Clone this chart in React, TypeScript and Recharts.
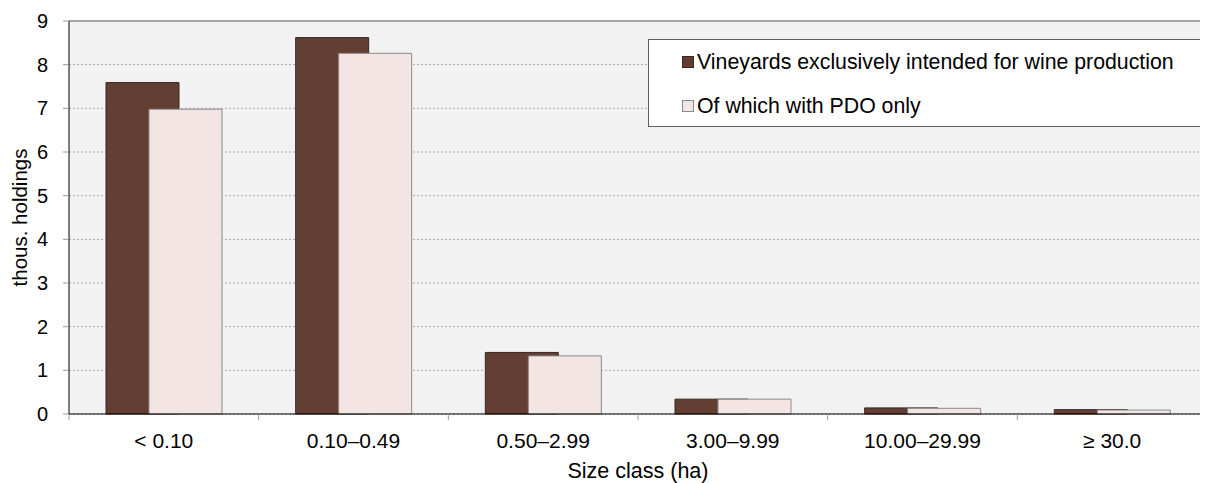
import React from "react";
import {
  BarChart,
  Bar,
  XAxis,
  YAxis,
  CartesianGrid,
  ReferenceLine,
} from "recharts";

const sizeClasses = ["< 0.10", "0.10–0.49", "0.50–2.99", "3.00–9.99", "10.00–29.99", "≥ 30.0"];
const vineyards = [7.59, 8.62, 1.41, 0.34, 0.14, 0.1];
const pdoOnly = [6.98, 8.26, 1.33, 0.34, 0.13, 0.09];
const yTicks = [0, 1, 2, 3, 4, 5, 6, 7, 8, 9];

const seriesNames = {
  vineyards: "Vineyards exclusively intended for wine production",
  pdoOnly: "Of which with PDO only",
};

const DARK = "#633f33";
const LIGHT = "#f2e5e3";
const FONT = "'Liberation Sans', Arial, sans-serif";

const data = sizeClasses.map((c, i) => ({
  name: c,
  vineyards: vineyards[i],
  pdoOnly: pdoOnly[i],
}));

function SizeTick(props: any) {
  const { x, y, payload } = props;
  const half = payload?.offset ?? 95;
  const axisY = y - 6;
  return (
    <g>
      <line x1={x - half} x2={x - half} y1={axisY} y2={axisY + 6} stroke="#999" />
      <text
        x={x}
        y={axisY + 34}
        textAnchor="middle"
        fontSize={21}
        fontFamily={FONT}
        fill="#000"
      >
        {payload.value}
      </text>
    </g>
  );
}

// legend drawn outside the svg so it doesn't eat plot height
function BoxLegend() {
  const rows = [
    { label: seriesNames.vineyards, fill: DARK, stroke: "#3a2620" },
    { label: seriesNames.pdoOnly, fill: LIGHT, stroke: "#8a8a8a" },
  ];
  return (
    <div
      style={{
        position: "absolute",
        left: 640,
        top: 31,
        width: 553,
        height: 88,
        border: "1px solid #5f5f5f",
        background: "#fff",
        boxSizing: "border-box",
        fontFamily: FONT,
      }}
    >
      {rows.map((r, i) => (
        <div
          key={r.label}
          style={{
            position: "absolute",
            left: 33,
            top: 22 + i * 44 - 12,
            height: 24,
            display: "flex",
            alignItems: "center",
            fontSize: 21.3,
            color: "#000",
            whiteSpace: "nowrap",
          }}
        >
          <span
            style={{
              display: "inline-block",
              width: 12,
              height: 12,
              background: r.fill,
              border: `1px solid ${r.stroke}`,
              boxSizing: "border-box",
              marginRight: 3,
            }}
          />
          {r.label}
        </div>
      ))}
    </div>
  );
}

export default function App() {
  return (
    <div style={{ width: 1200, height: 475, background: "#fff", position: "relative" }}>
      <BarChart
        width={1200}
        height={475}
        data={data}
        margin={{ top: 13, right: 1, left: 0, bottom: 0 }}
        barSize={73}
        barGap={-30}
      >
        <CartesianGrid
          vertical={false}
          fill="#f2f2f2"
          stroke="#a6a6a6"
          strokeDasharray="2 2"
        />
        <ReferenceLine y={9} stroke="#a6a6a6" strokeWidth={2} />
        <XAxis
          dataKey="name"
          height={69}
          axisLine={{ stroke: "#000" }}
          tickLine={false}
          tickSize={6}
          tickMargin={0}
          interval={0}
          tick={<SizeTick />}
          label={{
            value: "Size class (ha)",
            position: "insideBottom",
            offset: 5,
            fontSize: 21.5,
            fontFamily: FONT,
            fill: "#000",
          }}
        />
        <YAxis
          width={61}
          domain={[0, 9]}
          ticks={yTicks}
          interval={0}
          axisLine={{ stroke: "#000" }}
          tickLine={{ stroke: "#999" }}
          tickSize={6}
          tickMargin={15}
          tick={{ fontSize: 20, fontFamily: FONT, fill: "#000" }}
          label={{
            value: "thous. holdings",
            angle: -90,
            position: "insideLeft",
            offset: 12,
            fontSize: 20.5,
            fontFamily: FONT,
            fill: "#000",
            style: { textAnchor: "middle" },
          }}
        />
        <Bar
          dataKey="vineyards"
          name={seriesNames.vineyards}
          fill={DARK}
          stroke="#3a2620"
          isAnimationActive={false}
        />
        <Bar
          dataKey="pdoOnly"
          name={seriesNames.pdoOnly}
          fill={LIGHT}
          stroke="#8a8a8a"
          isAnimationActive={false}
        />
      </BarChart>
      <BoxLegend />
    </div>
  );
}
